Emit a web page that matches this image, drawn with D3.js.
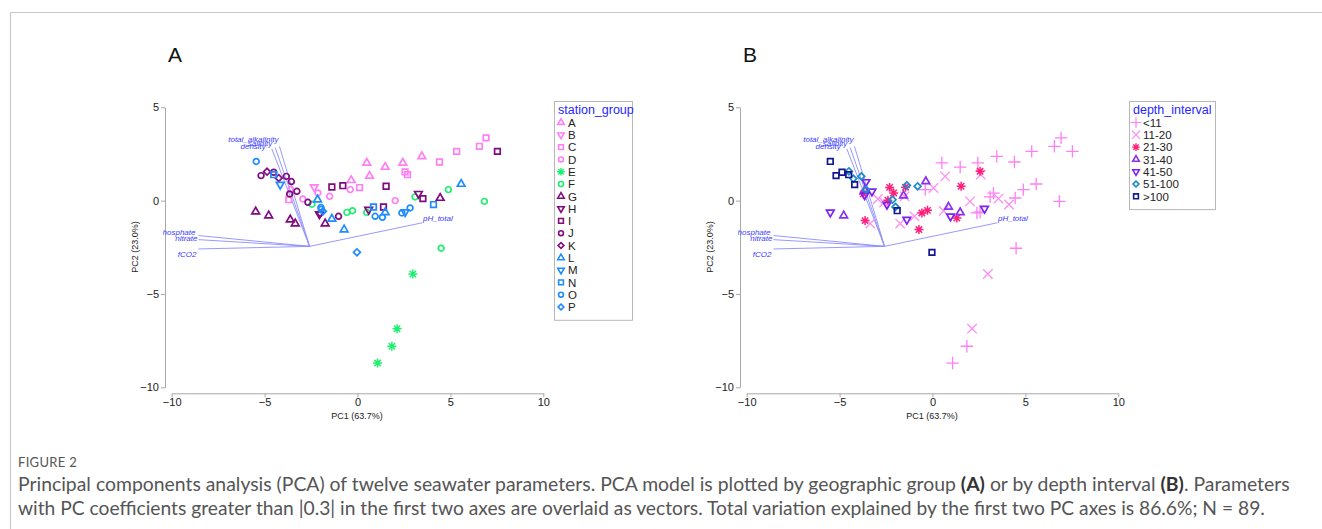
<!DOCTYPE html>
<html>
<head>
<meta charset="utf-8">
<script src="https://cdn.jsdelivr.net/npm/d3@7"></script>
<style>
  body { margin: 0; background: #fff; }
  svg text { font-family: "Liberation Sans", Arial, sans-serif; }
</style>
</head>
<body>
<div id="chart"></div>
<script>
// ---- data ----
const stationGroups = ["A","B","C","D","E","F","G","H","I","J","K","L","M","N","O","P"];
const stationColors = ["#ff7ff5","#ff7ff5","#ff7ff5","#ff7ff5","#1cf06e","#1cf06e",
  "#800a80","#800a80","#800a80","#800a80","#800a80","#1e8cff","#1e8cff","#1e8cff","#1e8cff","#1e8cff"];
const stationShapes = ["triUp","triDown","square","circle","asterisk","circle","triUp","triDown",
  "square","circle","diamond","triUp","triDown","square","circle","diamond"];

const depthIntervals = ["<11","11-20","21-30","31-40","41-50","51-100",">100"];
const depthColors = ["#ff7ff5","#ff8cf5","#ff1f7a","#8a30ee","#7a22f0","#1a8cc8","#15158f"];
const depthShapes = ["plus","times","asterisk","triUp","triDown","diamond","square"];

// [PC1, PC2, station_group]
const stationPoints = [
  [-0.34,1.09,"A"],[0.5,2.02,"A"],[1.49,1.80,"A"],[0.65,1.32,"A"],[2.44,2.02,"A"],[3.46,2.37,"A"],
  [-2.33,0.73,"B"],
  [-3.7,0.05,"C"],[0.11,0.70,"C"],[2.56,1.54,"C"],[2.69,1.39,"C"],[4.41,2.07,"C"],[5.34,2.64,"C"],[6.56,2.91,"C"],[6.92,3.36,"C"],
  [-2.13,0.41,"D"],[-1.5,0.23,"D"],[-2.94,0.09,"D"],[-0.39,0.59,"D"],[2.03,0.0,"D"],[-3.6,0.6,"D"],
  [2.98,-3.93,"E"],[2.13,-6.86,"E"],[1.85,-7.80,"E"],[1.08,-8.70,"E"],
  [-2.45,-0.19,"F"],[-0.57,-0.63,"F"],[-0.27,-0.54,"F"],[0.5,-0.63,"F"],[3.10,0.20,"F"],[4.89,0.59,"F"],[6.83,-0.04,"F"],[4.5,-2.55,"F"],
  [-5.48,-0.59,"G"],[-4.78,-0.80,"G"],[-3.62,-1.02,"G"],[-3.35,-1.23,"G"],[-1.74,-1.23,"G"],[4.45,0.14,"G"],
  [3.28,0.37,"H"],[0.6,-0.48,"H"],[-2.05,-0.72,"H"],
  [-1.38,0.73,"I"],[-0.79,0.80,"I"],[1.54,0.77,"I"],[1.4,-0.34,"I"],[3.52,0.11,"I"],[7.53,2.64,"I"],
  [-5.19,1.34,"J"],[-4.51,1.52,"J"],[-3.83,1.30,"J"],[-3.56,1.02,"J"],[-3.26,0.50,"J"],[-3.65,0.36,"J"],[-2.67,-0.09,"J"],[-1.02,-0.84,"J"],
  [-4.87,1.55,"K"],[-4.24,1.21,"K"],[-2.0,-0.68,"K"],
  [-2.15,0.05,"L"],[-1.38,-0.98,"L"],[-0.72,-1.55,"L"],[1.49,-0.63,"L"],[5.58,0.89,"L"],
  [-4.16,0.86,"M"],[2.56,-0.61,"M"],
  [-4.51,1.39,"N"],[0.86,-0.34,"N"],[4.09,-0.21,"N"],
  [-5.45,2.1,"O"],[-1.97,-0.36,"O"],[-1.95,-0.46,"O"],[0.95,-0.84,"O"],[1.34,-0.89,"O"],[2.39,-0.66,"O"],[2.83,-0.39,"O"],
  [-0.03,-2.77,"P"],[-1.86,-0.57,"P"]
];

// [PC1, PC2, depth_interval]
const depthPoints = [
  [0.5,2.02,"<11"],[1.49,1.80,"<11"],[2.44,2.02,"<11"],[3.46,2.37,"<11"],[4.41,2.07,"<11"],[5.34,2.64,"<11"],
  [6.56,2.91,"<11"],[6.92,3.36,"<11"],[7.53,2.64,"<11"],[5.58,0.89,"<11"],[4.89,0.59,"<11"],[6.83,-0.04,"<11"],
  [4.45,0.14,"<11"],[3.28,0.40,"<11"],[3.10,0.20,"<11"],[2.39,-0.66,"<11"],[2.56,-0.61,"<11"],[-0.39,0.59,"<11"],
  [4.5,-2.55,"<11"],[1.85,-7.80,"<11"],[1.08,-8.70,"<11"],
  [0.68,1.30,"11-20"],[2.6,1.39,"11-20"],[0.05,0.68,"11-20"],[2.02,-0.04,"11-20"],[3.55,0.11,"11-20"],[4.12,-0.21,"11-20"],
  [-2.94,0.09,"11-20"],[-3.35,-1.23,"11-20"],[-1.74,-1.23,"11-20"],[-0.97,-0.84,"11-20"],[0.6,-0.55,"11-20"],
  [-1.5,0.23,"11-20"],[-2.6,-0.1,"11-20"],[2.98,-3.93,"11-20"],[2.13,-6.86,"11-20"],
  [-2.31,0.71,"21-30"],[-2.09,0.41,"21-30"],[-2.4,0.02,"21-30"],[-3.63,-1.07,"21-30"],[-3.72,0.36,"21-30"],
  [-0.57,-0.66,"21-30"],[-0.27,-0.52,"21-30"],[-0.73,-1.55,"21-30"],[1.31,-0.93,"21-30"],[1.54,0.77,"21-30"],
  [2.56,1.57,"21-30"],[-1.45,0.72,"21-30"],
  [-4.78,-0.80,"31-40"],[-1.56,0.27,"31-40"],[-0.36,1.03,"31-40"],[0.86,-0.34,"31-40"],[1.49,-0.63,"31-40"],
  [-3.65,0.55,"31-40"],
  [-3.58,1.0,"41-50"],[-3.26,0.50,"41-50"],[-5.5,-0.63,"41-50"],[-2.45,-0.21,"41-50"],[-1.38,-1.02,"41-50"],
  [0.97,-0.84,"41-50"],[2.8,-0.43,"41-50"],[-3.65,0.3,"41-50"],
  [-4.5,1.57,"51-100"],[-4.26,1.18,"51-100"],[-3.83,1.30,"51-100"],[-3.58,0.59,"51-100"],[-2.15,0.05,"51-100"],
  [-1.99,-0.34,"51-100"],[-0.8,0.77,"51-100"],[-1.38,0.82,"51-100"],
  [-5.5,2.1,">100"],[-5.19,1.34,">100"],[-4.87,1.52,">100"],[-4.51,1.39,">100"],[-4.19,0.86,">100"],
  [-1.9,-0.54,">100"],[-0.03,-2.77,">100"]
];

// PC coefficient vectors (drawn from a common origin), label offsets in px
const vectorOrigin = [-2.58,-2.45];
const vectorNames = ["total_alkalinity","salinity","density","phosphate","nitrate","fCO2","pH_total"];
const vectorEnds = [[-4.20,2.91],[-4.43,2.84],[-4.61,2.77],[-8.56,-1.87],[-8.56,-2.09],[-8.56,-2.59],[3.47,-1.19]];
const labelAnchor = ["end","end","end","end","end","end","start"];
const labelOffset = [[-1,-4],[-3,-2],[-6,0],[-3,-1],[-1,1],[-2,8],[1,-2]];

const xTicks = [-10,-5,0,5,10];
const yTicks = [-10,-5,0,5];

// ---- layout ----
const W = 1322, H = 529;
const panelShift = 575;

const svg = d3.select("#chart").append("svg")
  .attr("width", W).attr("height", H);

// frame lines
svg.append("line").attr("x1", 10.5).attr("x2", W).attr("y1", 12.5).attr("y2", 12.5)
  .attr("stroke", "#c8c8c8").attr("stroke-width", 1.2);
svg.append("line").attr("x1", 10.5).attr("x2", 10.5).attr("y1", 12.5).attr("y2", H)
  .attr("stroke", "#c8c8c8").attr("stroke-width", 1.2);

const x = d3.scaleLinear().domain([-10, 10]).range([171.7, 543.3]);
const y = d3.scaleLinear().domain([-10, 5]).range([387.3, 107.3]);

// custom 8-arm asterisk
const asterisk8 = {
  draw(ctx, size) {
    const r = Math.sqrt(size) * 0.6;
    const d = r * Math.SQRT1_2;
    ctx.moveTo(-r, 0); ctx.lineTo(r, 0);
    ctx.moveTo(0, -r); ctx.lineTo(0, r);
    ctx.moveTo(-d, -d); ctx.lineTo(d, d);
    ctx.moveTo(-d, d); ctx.lineTo(d, -d);
  }
};

function markerPath(shape) {
  switch (shape) {
    case "triUp":
    case "triDown": return d3.symbol(d3.symbolTriangle2, 42)();
    case "square": return d3.symbol(d3.symbolSquare2, 40)();
    case "circle": return d3.symbol(d3.symbolCircle, 26)();
    case "diamond": return d3.symbol(d3.symbolSquare2, 30)();
    case "asterisk": return d3.symbol(asterisk8, 56)();
    case "plus": return d3.symbol(d3.symbolPlus, 52)();
    case "times": return d3.symbol(d3.symbolTimes, 60)();
  }
}
function markerRotate(shape) {
  if (shape === "triDown") return 180;
  if (shape === "diamond") return 45;
  return 0;
}
function markerWidth(shape) {
  if (shape === "plus" || shape === "times") return 1.3;
  if (shape === "asterisk") return 1.5;
  return 1.7;
}

function drawPanel(g, points, cats, colors, shapes, legendTitle, legendWidth, letter) {
  const color = d3.scaleOrdinal().domain(cats).range(colors);
  const shape = d3.scaleOrdinal().domain(cats).range(shapes);

  g.append("text")
    .attr("x", 175).attr("y", 62)
    .attr("text-anchor", "middle")
    .attr("font-size", 21)
    .attr("fill", "#111")
    .text(letter);

  // axes
  const yAxis = g.append("g")
    .attr("transform", "translate(165,0)")
    .call(d3.axisLeft(y).tickValues(yTicks).tickSize(4).tickSizeOuter(0).tickPadding(2));
  const xAxis = g.append("g")
    .attr("transform", "translate(0,393.3)")
    .call(d3.axisBottom(x).tickValues(xTicks).tickSize(4).tickSizeOuter(0).tickPadding(1));
  [xAxis, yAxis].forEach(a => {
    a.select(".domain").attr("stroke", "#a8a8a8");
    a.selectAll(".tick line").attr("stroke", "#a8a8a8");
    a.selectAll(".tick text").attr("fill", "#222").attr("font-size", 11)
      .attr("font-family", "'Liberation Sans', Arial, sans-serif");
  });

  g.append("text")
    .attr("x", 357).attr("y", 419)
    .attr("text-anchor", "middle")
    .attr("font-size", 9)
    .attr("fill", "#222")
    .text("PC1 (63.7%)");
  g.append("text")
    .attr("transform", "translate(138,247) rotate(-90)")
    .attr("text-anchor", "middle")
    .attr("font-size", 9)
    .attr("fill", "#222")
    .text("PC2 (23.0%)");

  // vectors, clipped to plot area
  const clipId = "clip" + letter;
  g.append("clipPath").attr("id", clipId)
    .append("rect").attr("x", 163).attr("y", 100).attr("width", 390).attr("height", 295);
  const vg = g.append("g").attr("clip-path", `url(#${clipId})`);
  vg.selectAll("line.vec")
    .data(vectorEnds)
    .join("line")
    .attr("class", "vec")
    .attr("x1", x(vectorOrigin[0])).attr("y1", y(vectorOrigin[1]))
    .attr("x2", d => x(d[0])).attr("y2", d => y(d[1]))
    .attr("stroke", "#8c8cff")
    .attr("stroke-width", 0.9);
  vg.selectAll("text.vec")
    .data(vectorEnds)
    .join("text")
    .attr("class", "vec")
    .attr("x", (d, i) => x(d[0]) + labelOffset[i][0])
    .attr("y", (d, i) => y(d[1]) + labelOffset[i][1])
    .attr("text-anchor", (d, i) => labelAnchor[i])
    .attr("font-size", 8)
    .attr("font-style", "italic")
    .attr("fill", "#3a3aff")
    .text((d, i) => vectorNames[i]);

  // points
  g.append("g").selectAll("path")
    .data(points)
    .join("path")
    .attr("d", d => markerPath(shape(d[2])))
    .attr("transform", d => `translate(${x(d[0])},${y(d[1])}) rotate(${markerRotate(shape(d[2]))})`)
    .attr("fill", "none")
    .attr("stroke", d => color(d[2]))
    .attr("stroke-width", d => markerWidth(shape(d[2])));

  // legend
  const lx = 554, ly = 101, step = 12.3;
  const lg = g.append("g");
  lg.append("rect")
    .attr("x", lx + 0.5).attr("y", ly + 0.5)
    .attr("width", legendWidth).attr("height", 22 + cats.length * step)
    .attr("fill", "#fff")
    .attr("stroke", "#b8b8b8");
  lg.append("text")
    .attr("x", lx + 4).attr("y", ly + 13)
    .attr("font-size", 12.5)
    .attr("fill", "#2626ff")
    .text(legendTitle);
  const item = lg.selectAll("g.item")
    .data(cats)
    .join("g")
    .attr("class", "item")
    .attr("transform", (d, i) => `translate(${lx + 7},${ly + 21.5 + i * step})`);
  item.append("path")
    .attr("d", d => markerPath(shape(d)))
    .attr("transform", d => `rotate(${markerRotate(shape(d))}) scale(0.85)`)
    .attr("fill", "none")
    .attr("stroke", d => color(d))
    .attr("stroke-width", d => markerWidth(shape(d)) * 1.1);
  item.append("text")
    .attr("x", 7).attr("y", 4.2)
    .attr("font-size", 11.5)
    .attr("fill", "#222")
    .text(d => d);
}

drawPanel(svg.append("g"), stationPoints, stationGroups, stationColors, stationShapes,
  "station_group", 78, "A");
drawPanel(svg.append("g").attr("transform", `translate(${panelShift},0)`), depthPoints,
  depthIntervals, depthColors, depthShapes, "depth_interval", 86, "B");

// caption
svg.append("text")
  .attr("x", 18).attr("y", 467)
  .attr("font-size", 13)
  .attr("fill", "#555")
  .attr("letter-spacing", 0.3)
  .style("font-family", "Lato, 'Open Sans', sans-serif")
  .text("FIGURE 2");

const captionLines = [
  [["Principal components analysis (PCA) of twelve seawater parameters. PCA model is plotted by geographic group ", false],
   ["(A)", true], [" or by depth interval ", false], ["(B)", true], [". Parameters", false]],
  [["with PC coefficients greater than |0.3| in the first two axes are overlaid as vectors. Total variation explained by the first two PC axes is 86.6%; N = 89.", false]]
];
const captionWidths = [1272, 1248];
captionLines.forEach((parts, i) => {
  const t = svg.append("text")
    .attr("x", 18).attr("y", 491 + i * 24)
    .attr("font-size", 17)
    .attr("fill", "#555")
    .style("font-family", "Lato, 'Open Sans', sans-serif");
  parts.forEach(p => {
    t.append("tspan")
      .attr("font-weight", p[1] ? "bold" : null)
      .attr("fill", p[1] ? "#333" : null)
      .text(p[0]);
  });
  const len = t.node().getComputedTextLength();
  t.attr("font-size", 17 * captionWidths[i] / len);
});
</script>
</body>
</html>
